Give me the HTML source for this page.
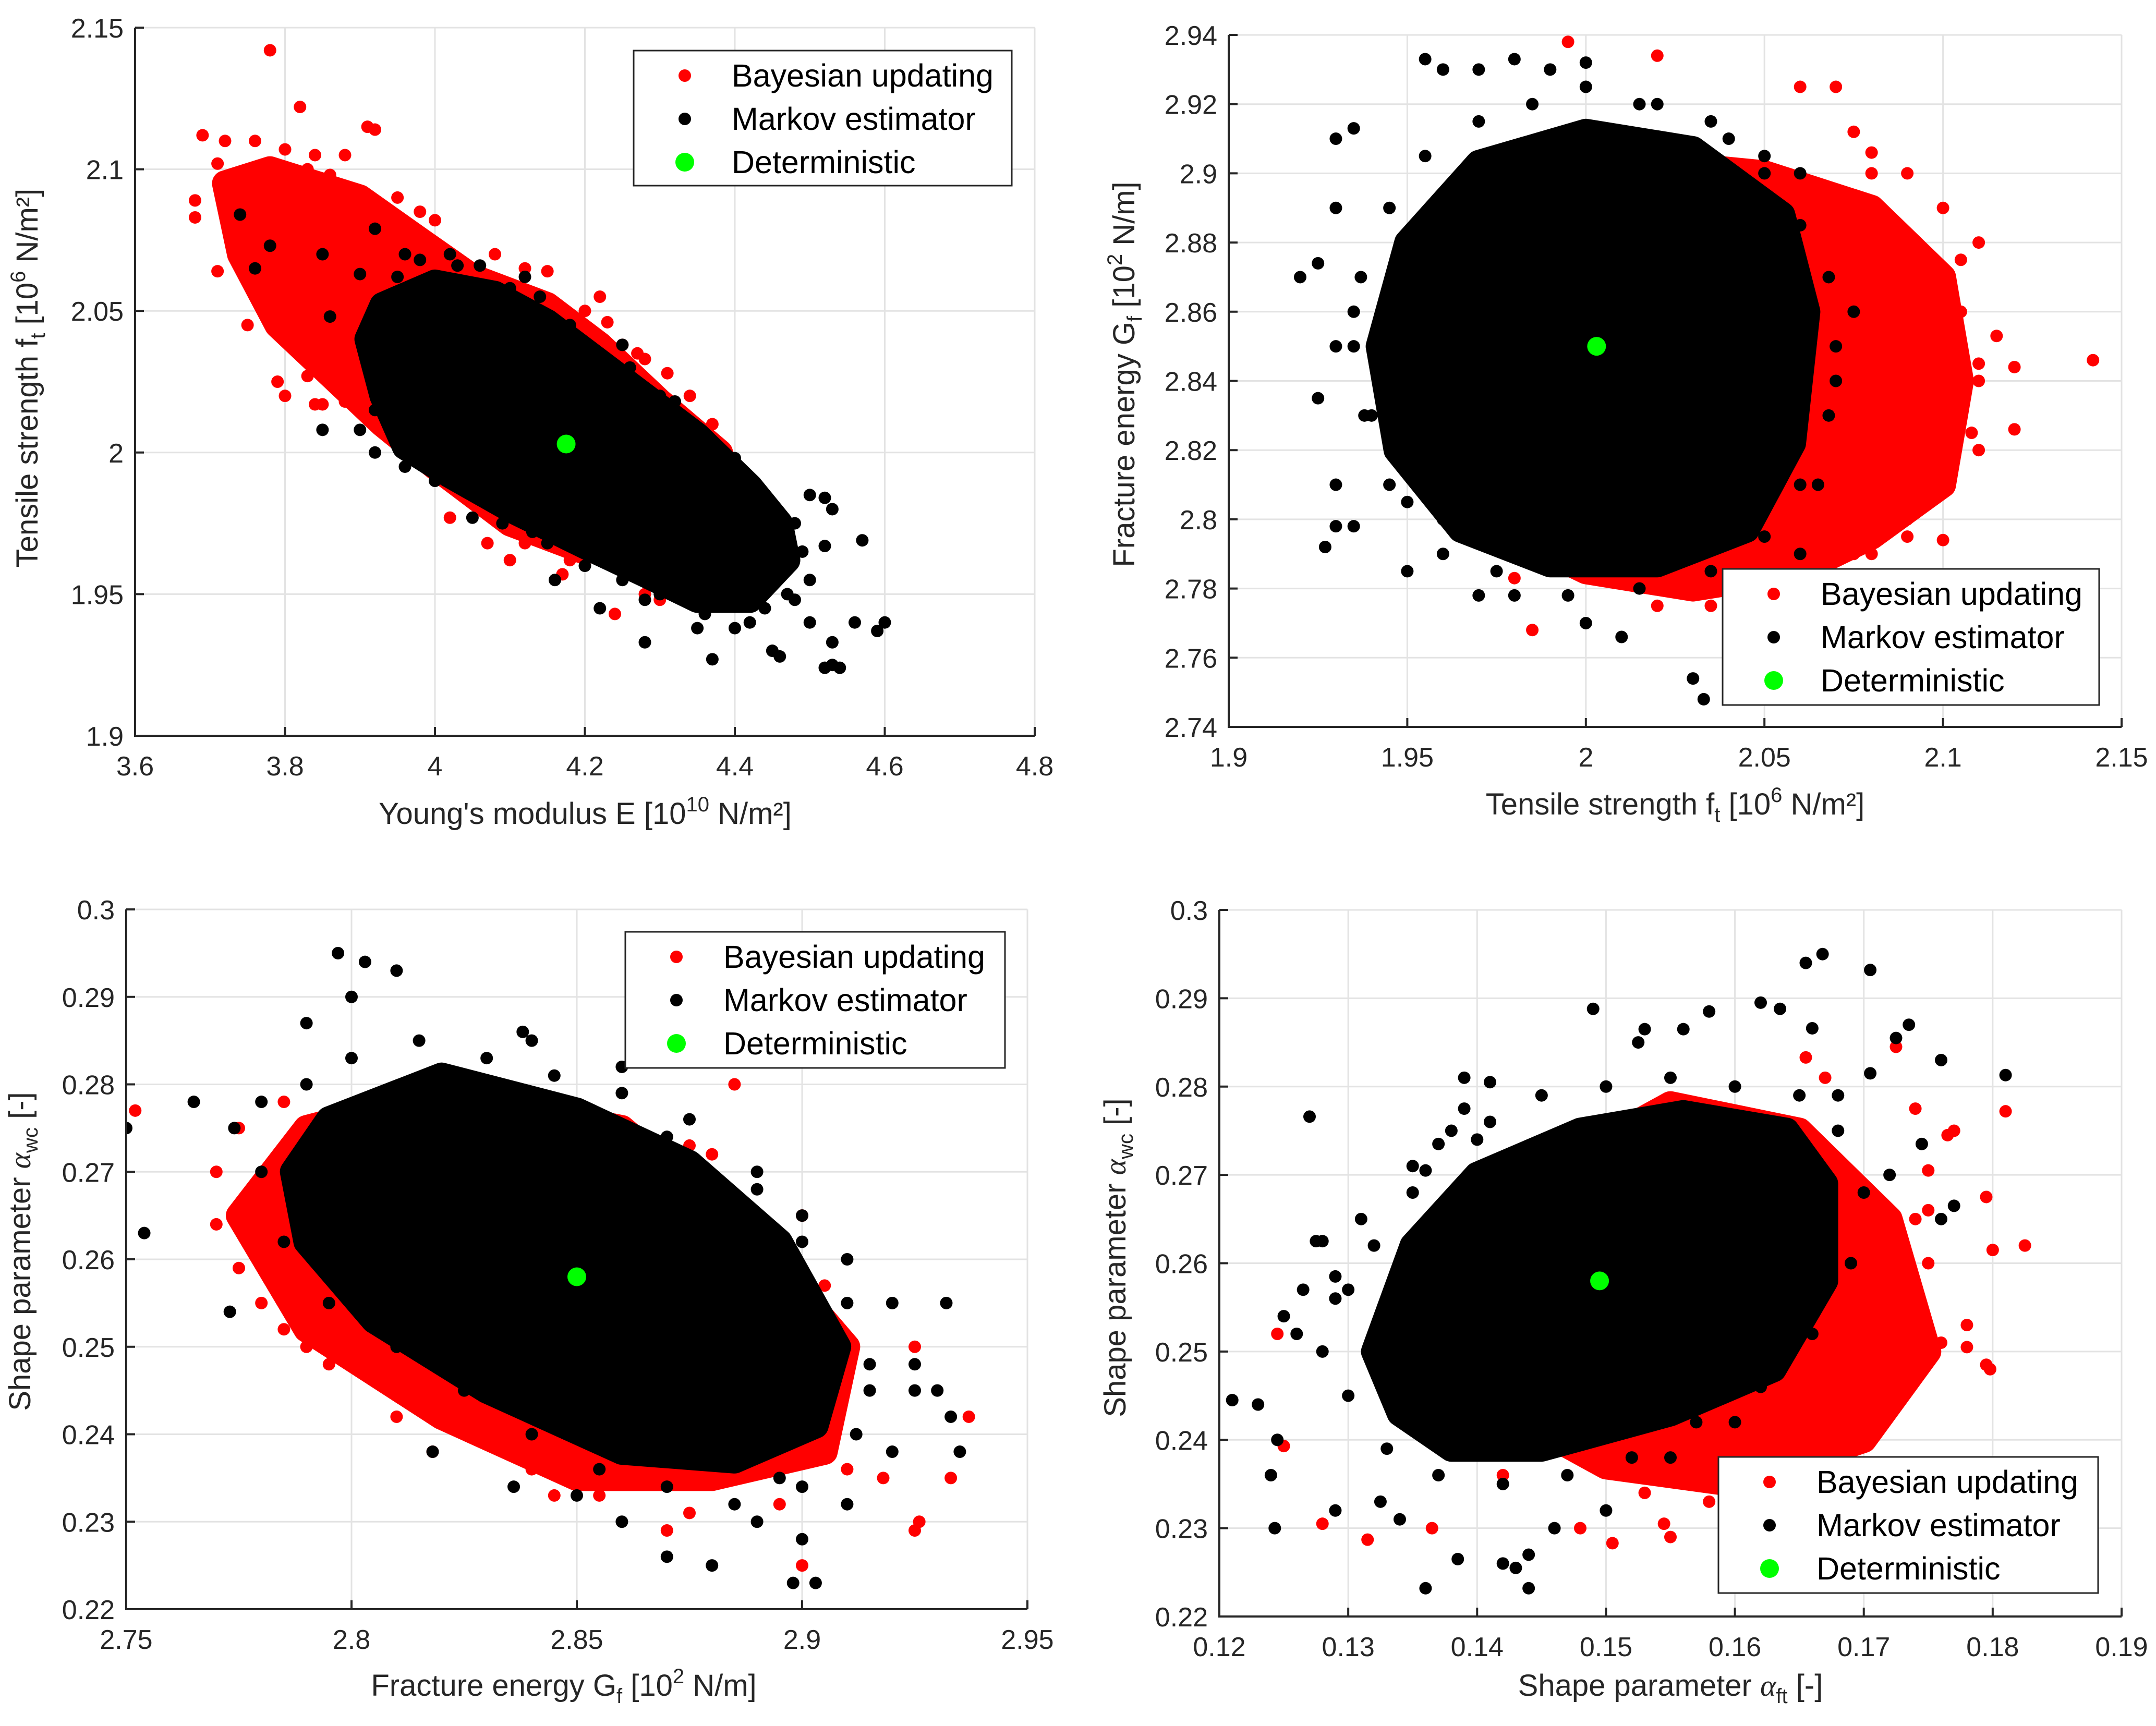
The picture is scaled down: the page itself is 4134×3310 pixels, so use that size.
<!DOCTYPE html>
<html><head><meta charset="utf-8"><style>
html,body{margin:0;padding:0;background:#fff}
svg{display:block;font-family:"Liberation Sans",Arial,sans-serif}
</style></head><body>
<svg id="fig" width="4134" height="3310" viewBox="0 0 4134 3310" xmlns="http://www.w3.org/2000/svg"></svg>
<script>
// ---------- Panel 1: E vs ft ----------
const p1XTicks=[3.6,3.8,4.0,4.2,4.4,4.6,4.8];
const p1XTickLabels=["3.6","3.8","4","4.2","4.4","4.6","4.8"];
const p1YTicks=[1.9,1.95,2.0,2.05,2.1,2.15];
const p1YTickLabels=["1.9","1.95","2","2.05","2.1","2.15"];
const p1RedHullX=[3.72,3.78,3.90,3.98,4.05,4.15,4.22,4.30,4.38,4.40,4.30,4.20,4.10,4.00,3.93,3.85,3.79,3.74];
const p1RedHullY=[2.095,2.100,2.090,2.075,2.062,2.052,2.038,2.018,2.000,1.985,1.975,1.965,1.975,1.995,2.010,2.030,2.045,2.070];
const p1BlackHullX=[3.93,4.00,4.08,4.15,4.25,4.35,4.42,4.46,4.47,4.42,4.35,4.28,4.20,4.10,4.02,3.96,3.93,3.91];
const p1BlackHullY=[2.052,2.060,2.056,2.046,2.026,2.006,1.988,1.975,1.962,1.948,1.948,1.957,1.967,1.980,1.992,2.002,2.020,2.040];
const p1RedX=[3.78,3.82,3.91,3.92,3.69,3.72,3.76,3.80,3.71,3.68,3.68,3.71,3.75,3.79,3.80,3.83,3.84,3.85,4.15,4.17,4.22,4.23,4.25,4.28,4.31,4.34,4.37,4.38,4.02,4.07,4.10,4.17,4.24,4.30,3.98,4.00,3.95,3.88,3.84,
 3.73,3.75,3.77,3.80,3.83,3.86,3.89,3.93,3.96,3.74,3.76,3.78,3.80,3.82,3.86,3.88,4.05,4.12,4.18,4.28,4.08,4.12,4.20,4.27];
const p1RedY=[2.142,2.122,2.115,2.114,2.112,2.110,2.110,2.107,2.102,2.089,2.083,2.064,2.045,2.025,2.020,2.027,2.017,2.017,2.064,2.050,2.055,2.046,2.038,2.033,2.028,2.020,2.010,1.980,1.977,1.968,1.962,1.957,1.943,1.948,2.085,2.082,2.090,2.105,2.105,
 2.095,2.085,2.090,2.095,2.100,2.098,2.093,2.087,2.080,2.070,2.055,2.050,2.040,2.035,2.025,2.018,1.985,1.968,1.962,1.950,2.070,2.065,2.050,2.035];
const p1BlackX=[3.74,3.78,3.76,3.85,3.86,3.90,3.85,3.90,3.92,3.95,4.00,4.05,4.13,4.16,4.22,4.28,4.35,4.37,4.40,4.45,4.46,4.50,4.52,4.53,4.54,4.53,4.56,4.57,4.59,4.60,4.52,4.53,4.50,4.48,4.52,4.50,4.46,4.44,4.38,4.37,4.30,4.25,4.12,4.03,3.96,3.92,4.39,4.28,4.48,4.42,
 3.95,3.98,4.02,4.06,4.10,4.14,4.18,4.22,4.26,4.32,4.35,4.40,4.44,3.92,3.96,4.00,4.05,4.09,4.15,4.20,4.25,4.30,4.36,4.42,4.47,4.49];
const p1BlackY=[2.084,2.073,2.065,2.070,2.048,2.063,2.008,2.008,2.000,2.005,1.997,1.977,1.972,1.955,1.945,1.933,1.938,1.927,1.938,1.930,1.928,1.940,1.924,1.925,1.924,1.933,1.940,1.969,1.937,1.940,1.984,1.980,1.985,1.975,1.967,1.955,1.960,1.945,1.995,2.000,2.020,2.038,2.062,2.066,2.070,2.079,1.970,1.948,1.948,1.950,
 2.062,2.068,2.070,2.066,2.058,2.055,2.045,2.035,2.030,2.018,2.005,1.998,1.985,2.015,1.995,1.990,1.985,1.975,1.968,1.960,1.955,1.950,1.943,1.940,1.950,1.965];
const p1Det=[4.175,2.003];

// ---------- Panel 2: ft vs Gf ----------
const p2XTicks=[1.9,1.95,2.0,2.05,2.1,2.15];
const p2XTickLabels=["1.9","1.95","2","2.05","2.1","2.15"];
const p2YTicks=[2.74,2.76,2.78,2.80,2.82,2.84,2.86,2.88,2.90,2.92,2.94];
const p2YTickLabels=["2.74","2.76","2.78","2.8","2.82","2.84","2.86","2.88","2.9","2.92","2.94"];
const p2RedHullX=[2.00,2.05,2.08,2.10,2.105,2.10,2.08,2.06,2.03,2.00,1.97,1.96];
const p2RedHullY=[2.905,2.900,2.890,2.870,2.840,2.810,2.795,2.785,2.780,2.785,2.800,2.850];
const p2BlackHullX=[1.95,1.97,2.00,2.03,2.055,2.062,2.058,2.045,2.02,1.99,1.965,1.947,1.942];
const p2BlackHullY=[2.880,2.903,2.912,2.907,2.888,2.860,2.822,2.797,2.787,2.787,2.797,2.820,2.850];
const p2RedX=[1.995,2.02,2.06,2.07,2.075,2.08,2.09,2.10,2.11,2.105,2.115,2.12,2.142,2.11,2.12,2.11,2.095,2.09,2.10,2.08,2.065,2.04,2.02,1.985,1.98,1.95,1.96,2.09,2.10,2.09,2.085,2.06,
 2.07,2.085,2.095,2.105,2.11,2.108,2.10,2.09,2.075,2.055,2.035,2.08,2.10,2.095];
const p2RedY=[2.938,2.934,2.925,2.925,2.912,2.906,2.900,2.890,2.880,2.875,2.853,2.844,2.846,2.845,2.826,2.820,2.810,2.795,2.794,2.790,2.785,2.775,2.775,2.768,2.783,2.825,2.820,2.830,2.850,2.860,2.875,2.780,
 2.895,2.885,2.875,2.860,2.840,2.825,2.815,2.800,2.790,2.780,2.775,2.900,2.835,2.845];
const p2BlackX=[1.955,1.96,1.97,1.98,1.99,2.0,1.935,1.93,1.93,1.925,1.925,1.93,1.93,1.935,1.927,1.92,1.93,1.935,1.94,1.95,1.97,1.98,2.0,2.01,2.03,2.033,2.04,2.06,2.065,2.07,2.075,2.06,2.05,2.04,2.02,1.96,1.95,
 1.945,1.955,1.97,1.985,2.0,2.015,2.035,2.05,2.06,2.068,2.07,2.068,2.06,2.05,2.035,2.015,1.995,1.975,1.96,1.945,1.938,1.935,1.937];
const p2BlackY=[2.933,2.930,2.930,2.933,2.930,2.932,2.913,2.910,2.890,2.874,2.835,2.810,2.798,2.798,2.792,2.870,2.850,2.860,2.830,2.805,2.778,2.778,2.770,2.766,2.754,2.748,2.780,2.790,2.810,2.840,2.860,2.900,2.905,2.910,2.920,2.790,2.785,
 2.890,2.905,2.915,2.920,2.925,2.920,2.915,2.900,2.885,2.870,2.850,2.830,2.810,2.795,2.785,2.780,2.778,2.785,2.800,2.810,2.830,2.850,2.870];
const p2Det=[2.003,2.85];

// ---------- Panel 3: Gf vs alpha_wc ----------
const p3XTicks=[2.75,2.8,2.85,2.9,2.95];
const p3XTickLabels=["2.75","2.8","2.85","2.9","2.95"];
const p3YTicks=[0.22,0.23,0.24,0.25,0.26,0.27,0.28,0.29,0.30];
const p3YTickLabels=["0.22","0.23","0.24","0.25","0.26","0.27","0.28","0.29","0.3"];
const p3RedHullX=[2.79,2.82,2.86,2.89,2.91,2.905,2.88,2.85,2.82,2.79,2.775];
const p3RedHullY=[0.275,0.279,0.275,0.262,0.250,0.238,0.235,0.235,0.242,0.252,0.265];
const p3BlackHullX=[2.795,2.82,2.85,2.875,2.895,2.908,2.903,2.885,2.86,2.83,2.805,2.79,2.787];
const p3BlackHullY=[0.276,0.281,0.277,0.271,0.262,0.250,0.241,0.237,0.238,0.245,0.253,0.262,0.270];
const p3RedX=[2.752,2.77,2.775,2.78,2.79,2.80,2.81,2.818,2.84,2.845,2.87,2.875,2.88,2.90,2.925,2.926,2.925,2.937,2.933,2.90,2.918,2.885,2.905,
 2.78,2.785,2.795,2.81,2.825,2.84,2.855,2.875,2.895,2.91,2.77,2.775,2.785];
const p3RedY=[0.277,0.264,0.259,0.255,0.250,0.248,0.242,0.238,0.236,0.233,0.229,0.273,0.272,0.265,0.250,0.230,0.229,0.242,0.235,0.225,0.235,0.280,0.257,
 0.260,0.252,0.248,0.245,0.240,0.238,0.233,0.231,0.232,0.236,0.270,0.275,0.278];
const p3BlackX=[2.797,2.803,2.81,2.80,2.79,2.78,2.774,2.765,2.75,2.754,2.773,2.838,2.84,2.86,2.87,2.89,2.90,2.91,2.92,2.925,2.93,2.932,2.933,2.935,2.92,2.91,2.90,2.898,2.903,2.88,2.87,2.86,2.85,2.836,2.818,2.89,2.895,2.915,2.925,
 2.79,2.80,2.815,2.83,2.845,2.86,2.875,2.89,2.90,2.91,2.915,2.912,2.90,2.885,2.87,2.855,2.84,2.825,2.81,2.795,2.785,2.78];
const p3BlackY=[0.295,0.294,0.293,0.290,0.287,0.278,0.275,0.278,0.275,0.263,0.254,0.286,0.285,0.282,0.274,0.270,0.265,0.260,0.255,0.248,0.245,0.255,0.242,0.238,0.238,0.232,0.228,0.223,0.223,0.225,0.226,0.230,0.233,0.234,0.238,0.230,0.235,0.245,0.245,
 0.280,0.283,0.285,0.283,0.281,0.279,0.276,0.268,0.262,0.255,0.248,0.240,0.234,0.232,0.234,0.236,0.240,0.245,0.250,0.255,0.262,0.270];
const p3Det=[2.85,0.258];

// ---------- Panel 4: alpha_ft vs alpha_wc ----------
const p4XTicks=[0.12,0.13,0.14,0.15,0.16,0.17,0.18,0.19];
const p4XTickLabels=["0.12","0.13","0.14","0.15","0.16","0.17","0.18","0.19"];
const p4YTicks=[0.22,0.23,0.24,0.25,0.26,0.27,0.28,0.29,0.30];
const p4YTickLabels=["0.22","0.23","0.24","0.25","0.26","0.27","0.28","0.29","0.3"];
const p4RedHullX=[0.145,0.155,0.165,0.172,0.175,0.17,0.16,0.15,0.14,0.138];
const p4RedHullY=[0.270,0.278,0.275,0.265,0.250,0.240,0.235,0.237,0.245,0.258];
const p4BlackHullX=[0.135,0.14,0.148,0.156,0.164,0.167,0.167,0.163,0.155,0.145,0.138,0.134,0.132];
const p4BlackHullY=[0.262,0.270,0.275,0.277,0.275,0.269,0.258,0.248,0.243,0.239,0.239,0.243,0.250];
const p4RedX=[0.1245,0.125,0.128,0.1315,0.1365,0.142,0.148,0.1505,0.1545,0.155,0.16,0.165,0.168,0.17,0.172,0.174,0.176,0.178,0.178,0.1795,0.1798,0.18,0.1825,0.1795,0.181,0.1765,0.175,0.1725,0.1655,0.167,0.174,0.177,0.175,0.172,0.17,0.165,0.16,0.1635,
 0.17,0.172,0.168,0.163,0.158,0.153,0.173,0.175,0.174,0.165,0.16,0.17,0.167];
const p4RedY=[0.252,0.2393,0.2305,0.2287,0.230,0.236,0.230,0.2283,0.2305,0.229,0.233,0.238,0.241,0.246,0.250,0.247,0.251,0.253,0.2505,0.2485,0.248,0.2615,0.262,0.2675,0.2772,0.2745,0.2705,0.2845,0.2833,0.281,0.2775,0.275,0.266,0.260,0.255,0.247,0.239,0.2375,
 0.250,0.245,0.238,0.235,0.233,0.234,0.255,0.260,0.265,0.243,0.237,0.242,0.248];
const p4BlackX=[0.121,0.123,0.124,0.1243,0.1245,0.125,0.126,0.1265,0.127,0.1275,0.128,0.129,0.13,0.131,0.129,0.1325,0.134,0.135,0.136,0.137,0.138,0.139,0.139,0.141,0.141,0.142,0.143,0.144,0.144,0.136,0.1385,0.149,0.153,0.1525,0.156,0.158,0.162,0.1635,0.166,0.1655,0.1668,0.1705,0.1705,0.1735,0.1725,0.176,0.181,0.177,0.1745,0.176,0.168,0.172,0.146,0.15,0.155,0.16,
 0.132,0.135,0.14,0.145,0.15,0.155,0.16,0.165,0.168,0.17,0.169,0.166,0.162,0.157,0.152,0.147,0.142,0.137,0.133,0.13,0.128,0.129];
const p4BlackY=[0.2445,0.244,0.236,0.230,0.240,0.254,0.252,0.257,0.2766,0.2625,0.2625,0.2585,0.257,0.265,0.232,0.233,0.231,0.271,0.2705,0.2735,0.275,0.281,0.2775,0.2805,0.276,0.226,0.2255,0.2232,0.227,0.2232,0.2265,0.2888,0.2865,0.285,0.2865,0.2885,0.2895,0.2888,0.2866,0.294,0.295,0.2932,0.2815,0.287,0.2855,0.283,0.2813,0.2665,0.2735,0.265,0.279,0.270,0.230,0.232,0.238,0.242,
 0.262,0.268,0.274,0.279,0.280,0.281,0.280,0.279,0.275,0.268,0.260,0.252,0.246,0.242,0.238,0.236,0.235,0.236,0.239,0.245,0.250,0.256];
const p4Det=[0.1495,0.258];

const legendLabels=["Bayesian updating","Markov estimator","Deterministic"];

const NS="http://www.w3.org/2000/svg";
const svg=document.getElementById('fig');
function mk(tag,attrs,parent){const e=document.createElementNS(NS,tag);for(const k in attrs)e.setAttribute(k,attrs[k]);(parent||svg).appendChild(e);return e;}

function panel(cfg){
  const g=mk('g',{});
  
  
  const L=cfg.box[0],R=cfg.box[1],T=cfg.box[2],B=cfg.box[3];
  const sx=v=>L+(v-cfg.xr[0])/(cfg.xr[1]-cfg.xr[0])*(R-L);
  const sy=v=>B-(v-cfg.yr[0])/(cfg.yr[1]-cfg.yr[0])*(B-T);
  mk('rect',{x:L,y:T,width:R-L,height:B-T,fill:'#fff'},g);
  cfg.xt.forEach(v=>{const l=mk('line',{x1:sx(v),x2:sx(v),y1:T,y2:B,stroke:'#e3e3e3','stroke-width':3},g);
    
    });
  cfg.yt.forEach(v=>{const l=mk('line',{x1:L,x2:R,y1:sy(v),y2:sy(v),stroke:'#e3e3e3','stroke-width':3},g);
    
    });
  const clip=mk('clipPath',{id:cfg.name+'-clip'},g);
  mk('rect',{x:L,y:T,width:R-L,height:B-T},clip);
  const plot=mk('g',{'clip-path':'url(#'+cfg.name+'-clip)'},g);
  
  
  const hull=(xs,ys,col,nm)=>{
    let d='';xs.forEach((x,i)=>{d+=(i?'L':'M')+sx(x).toFixed(1)+' '+sy(ys[i]).toFixed(1);});d+='Z';
    const p=mk('path',{d:d,fill:col,stroke:col,'stroke-width':50,'stroke-linejoin':'round'},plot);
    
    
  };
  const dots=(xs,ys,col,nm)=>{xs.forEach((x,i)=>{const c=mk('circle',{cx:sx(x),cy:sy(ys[i]),r:12,fill:col},plot);
    
    });};
  hull(cfg.rhx,cfg.rhy,'#ff0000','bayesian-cloud');
  dots(cfg.rx,cfg.ry,'#ff0000','bayesian-point');
  hull(cfg.bhx,cfg.bhy,'#000000','markov-cloud');
  dots(cfg.bx,cfg.by,'#000000','markov-point');
  const dc=mk('circle',{cx:sx(cfg.det[0]),cy:sy(cfg.det[1]),r:18,fill:'#00ff00'},plot);
  
  
  const ax=mk('path',{d:`M${L} ${T}V${B}H${R}`,fill:'none',stroke:'#262626','stroke-width':4},g);
  
  
  cfg.xt.forEach((v,i)=>{
    mk('line',{x1:sx(v),x2:sx(v),y1:B,y2:B-17,stroke:'#262626','stroke-width':4},g);
    const t=mk('text',{x:sx(v),y:B+76,'font-size':52,'text-anchor':'middle',fill:'#262626'},g);
    t.textContent=cfg.xl[i];
    
    
  });
  cfg.yt.forEach((v,i)=>{
    mk('line',{x1:L,x2:L+17,y1:sy(v),y2:sy(v),stroke:'#262626','stroke-width':4},g);
    const t=mk('text',{x:L-22,y:sy(v)+19,'font-size':52,'text-anchor':'end',fill:'#262626'},g);
    t.textContent=cfg.yl[i];
    
    
  });
  const xt=mk('text',{x:cfg.xlab[0],y:cfg.xlab[1],'font-size':58,'text-anchor':'middle',fill:'#262626'},g);
  xt.innerHTML=cfg.xlab[2];
  
  
  const yt=mk('text',{x:0,y:0,'font-size':58,'text-anchor':'middle',fill:'#262626',transform:`translate(${cfg.ylab[0]},${cfg.ylab[1]}) rotate(-90)`},g);
  yt.innerHTML=cfg.ylab[2];
  
  
  const lg=mk('g',{},g);
  
  
  const [lx,ly,lw,lh]=cfg.leg;
  mk('rect',{x:lx,y:ly,width:lw,height:lh,fill:'#fff',stroke:'#262626','stroke-width':3},lg);
  const cols=['#ff0000','#000000','#00ff00'],rs=[12,12,18];
  const names=['legend-entry-bayesian','legend-entry-markov','legend-entry-deterministic'];
  legendLabels.forEach((s,i)=>{
    const cy=ly+48+i*83;
    const e=mk('g',{},lg);
    
    
    mk('circle',{cx:lx+98,cy:cy,r:rs[i],fill:cols[i]},e);
    const t=mk('text',{x:lx+188,y:cy+21,'font-size':61,fill:'#000'},e);
    t.textContent=s;
  });
}

panel({name:'panel-e-vs-ft',box:[259,1984,53,1411],xr:[3.6,4.8],yr:[1.9,2.15],xt:p1XTicks,xl:p1XTickLabels,yt:p1YTicks,yl:p1YTickLabels,
  rhx:p1RedHullX,rhy:p1RedHullY,bhx:p1BlackHullX,bhy:p1BlackHullY,rx:p1RedX,ry:p1RedY,bx:p1BlackX,by:p1BlackY,det:p1Det,
  xlab:[1122,1580,'Young\'s modulus E [10<tspan dy="-24" font-size="40">10</tspan><tspan dy="24"> N/m²]</tspan>'],
  ylab:[72,725,'Tensile strength f<tspan dy="14" font-size="40">t</tspan><tspan dy="-14"> [10</tspan><tspan dy="-24" font-size="40">6</tspan><tspan dy="24"> N/m²]</tspan>'],
  leg:[1215,97,725,259]});

panel({name:'panel-ft-vs-gf',box:[2356,4068,67,1394],xr:[1.9,2.15],yr:[2.74,2.94],xt:p2XTicks,xl:p2XTickLabels,yt:p2YTicks,yl:p2YTickLabels,
  rhx:p2RedHullX,rhy:p2RedHullY,bhx:p2BlackHullX,bhy:p2BlackHullY,rx:p2RedX,ry:p2RedY,bx:p2BlackX,by:p2BlackY,det:p2Det,
  xlab:[3212,1562,'Tensile strength f<tspan dy="14" font-size="40">t</tspan><tspan dy="-14"> [10</tspan><tspan dy="-24" font-size="40">6</tspan><tspan dy="24"> N/m²]</tspan>'],
  ylab:[2175,718,'Fracture energy G<tspan dy="14" font-size="40">f</tspan><tspan dy="-14"> [10</tspan><tspan dy="-24" font-size="40">2</tspan><tspan dy="24"> N/m]</tspan>'],
  leg:[3303,1091,722,261]});

panel({name:'panel-gf-vs-awc',box:[242,1970,1744,3086],xr:[2.75,2.95],yr:[0.22,0.30],xt:p3XTicks,xl:p3XTickLabels,yt:p3YTicks,yl:p3YTickLabels,
  rhx:p3RedHullX,rhy:p3RedHullY,bhx:p3BlackHullX,bhy:p3BlackHullY,rx:p3RedX,ry:p3RedY,bx:p3BlackX,by:p3BlackY,det:p3Det,
  xlab:[1081,3252,'Fracture energy G<tspan dy="14" font-size="40">f</tspan><tspan dy="-14"> [10</tspan><tspan dy="-24" font-size="40">2</tspan><tspan dy="24"> N/m]</tspan>'],
  ylab:[58,2400,'Shape parameter <tspan font-family="Liberation Serif" font-style="italic">α</tspan><tspan dy="14" font-size="40">wc</tspan><tspan dy="-14"> [-]</tspan>'],
  leg:[1199,1787,728,261]});

panel({name:'panel-aft-vs-awc',box:[2338,4068,1745,3100],xr:[0.12,0.19],yr:[0.22,0.30],xt:p4XTicks,xl:p4XTickLabels,yt:p4YTicks,yl:p4YTickLabels,
  rhx:p4RedHullX,rhy:p4RedHullY,bhx:p4BlackHullX,bhy:p4BlackHullY,rx:p4RedX,ry:p4RedY,bx:p4BlackX,by:p4BlackY,det:p4Det,
  xlab:[3203,3252,'Shape parameter <tspan font-family="Liberation Serif" font-style="italic">α</tspan><tspan dy="14" font-size="40">ft</tspan><tspan dy="-14"> [-]</tspan>'],
  ylab:[2158,2412,'Shape parameter <tspan font-family="Liberation Serif" font-style="italic">α</tspan><tspan dy="14" font-size="40">wc</tspan><tspan dy="-14"> [-]</tspan>'],
  leg:[3295,2794,728,261]});
</script>
</body></html>
